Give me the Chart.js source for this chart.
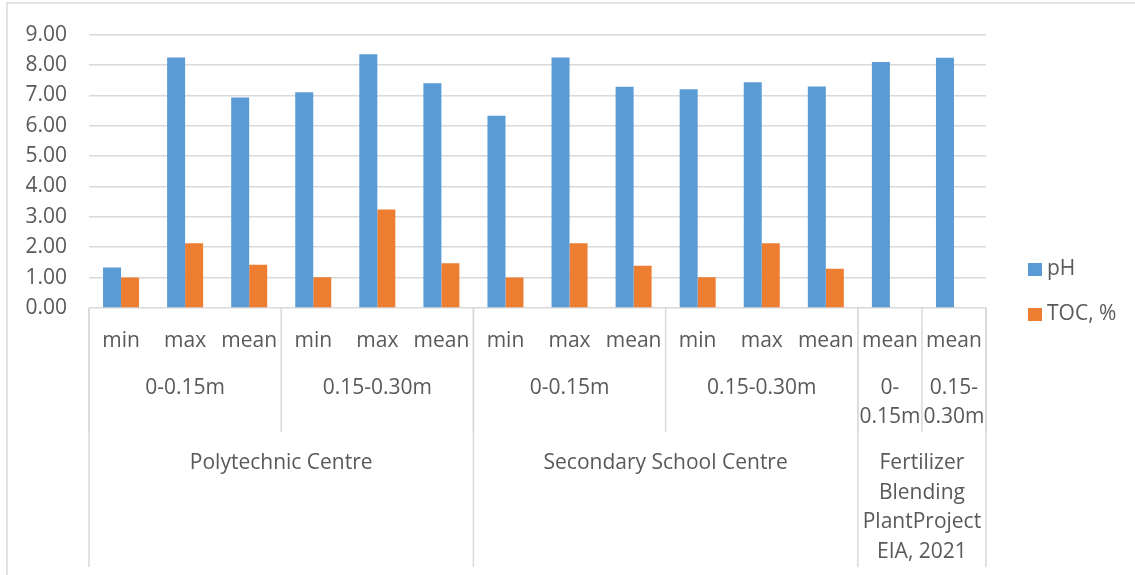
<!DOCTYPE html>
<html>
<head>
<meta charset="utf-8">
<title>pH and TOC of soil samples</title>
<script src="https://cdn.jsdelivr.net/npm/chart.js@4.4.1/dist/chart.umd.min.js"></script>
<style>
  html, body { margin: 0; padding: 0; background: #ffffff; }
  #wrap { width: 1135px; height: 575px; position: relative; }
</style>
</head>
<body>
<div id="wrap"><canvas id="chart" width="1135" height="575"></canvas></div>
<script>
// Statistic shown by each bar pair
const categories = ['min', 'max', 'mean', 'min', 'max', 'mean',
                    'min', 'max', 'mean', 'min', 'max', 'mean',
                    'mean', 'mean'];

// Series values
const phValues  = [1.33, 8.25, 6.93, 7.10, 8.35, 7.40, 6.33, 8.25, 7.28, 7.20, 7.43, 7.29, 8.10, 8.24];
const tocValues = [1.00, 2.13, 1.42, 1.01, 3.24, 1.47, 1.00, 2.13, 1.39, 1.01, 2.13, 1.29, null, null];

// Second label level: sampling depth (lines) and how many categories each spans
const depthLabels = [['0-0.15m'], ['0.15-0.30m'], ['0-0.15m'], ['0.15-0.30m'], ['0-', '0.15m'], ['0.15-', '0.30m']];
const depthSpans  = [3, 3, 3, 3, 1, 1];

// Third label level: sampling site
const siteLabels = [['Polytechnic Centre'], ['Secondary School Centre'],
                    ['Fertilizer', 'Blending', 'PlantProject', 'EIA, 2021']];
const siteSpans  = [6, 6, 2];

// Y axis tick values
const yTicks = [0, 1, 2, 3, 4, 5, 6, 7, 8, 9];

const FONT = '"Open Sans", "Noto Sans", sans-serif';
const TEXT = '#595959';
const LINE = '#d9d9d9';

// White background plus the thin outer frame
const frame = {
  id: 'frame',
  beforeDraw(chart) {
    const ctx = chart.ctx;
    ctx.save();
    ctx.fillStyle = '#ffffff';
    ctx.fillRect(0, 0, chart.width, chart.height);
    ctx.strokeStyle = LINE;
    ctx.lineWidth = 1.5;
    ctx.strokeRect(7, 3, chart.width + 20, chart.height + 20);
    ctx.restore();
  }
};

// Nested category labels and their separators under the x axis
const groupedAxis = {
  id: 'groupedAxis',
  afterDraw(chart) {
    const ctx = chart.ctx;
    const x = chart.scales.x;
    const base = chart.chartArea.bottom;
    const edge = i => x.getPixelForValue(i - 0.5);
    const depthBottom = base + 124;
    const siteBottom = base + 259;
    const lineH = 29.5;

    ctx.save();
    ctx.strokeStyle = LINE;
    ctx.lineWidth = 1.5;
    const vline = (px, y2) => {
      ctx.beginPath();
      ctx.moveTo(px, base);
      ctx.lineTo(px, y2);
      ctx.stroke();
    };

    let i = 0;
    vline(edge(0), depthBottom);
    depthSpans.forEach(s => { i += s; vline(edge(i), depthBottom); });
    i = 0;
    vline(edge(0), siteBottom);
    siteSpans.forEach(s => { i += s; vline(edge(i), siteBottom); });

    ctx.fillStyle = TEXT;
    ctx.font = '21px ' + FONT;
    ctx.textAlign = 'center';
    ctx.textBaseline = 'middle';

    const drawLevel = (labels, spans, top) => {
      let start = 0;
      labels.forEach((lines, k) => {
        const cx = (edge(start) + edge(start + spans[k])) / 2;
        lines.forEach((t, j) => ctx.fillText(t, cx, top + j * lineH));
        start += spans[k];
      });
    };
    drawLevel(depthLabels, depthSpans, base + 80);
    drawLevel(siteLabels, siteSpans, base + 155.5);

    // Legend
    const items = chart.data.datasets;
    items.forEach((ds, k) => {
      const cy = 269.5 + k * 45;
      ctx.fillStyle = ds.backgroundColor;
      ctx.fillRect(1028, cy - 6.5, 14, 13);
      ctx.fillStyle = TEXT;
      ctx.textAlign = 'left';
      ctx.fillText(ds.label, 1047, cy);
    });
    ctx.restore();
  }
};

new Chart(document.getElementById('chart'), {
  type: 'bar',
  data: {
    labels: categories,
    datasets: [
      { label: 'pH', data: phValues, backgroundColor: '#5b9bd5',
        categoryPercentage: 0.562, barPercentage: 1.0 },
      { label: 'TOC, %', data: tocValues, backgroundColor: '#ed7d31',
        categoryPercentage: 0.562, barPercentage: 1.0 }
    ]
  },
  options: {
    responsive: false,
    animation: false,
    devicePixelRatio: 1,
    layout: { padding: { top: 32, right: 149, bottom: 0, left: 0 } },
    plugins: { legend: { display: false }, tooltip: { enabled: false } },
    scales: {
      x: {
        grid: { display: false, drawTicks: false },
        border: { display: false },
        ticks: { color: TEXT, font: { family: FONT, size: 21 }, padding: 20, maxRotation: 0, autoSkip: false },
        afterFit(scale) { scale.height = 267; }
      },
      y: {
        min: 0,
        max: 9,
        afterBuildTicks(scale) { scale.ticks = yTicks.map(v => ({ value: v })); },
        grid: { color: LINE, lineWidth: 1.5, drawTicks: false },
        border: { display: false },
        ticks: { color: TEXT, font: { family: FONT, size: 21 }, padding: 22,
                 callback: v => Number(v).toFixed(2) },
        afterFit(scale) { scale.width = 89; }
      }
    }
  },
  plugins: [frame, groupedAxis]
});
</script>
</body>
</html>
